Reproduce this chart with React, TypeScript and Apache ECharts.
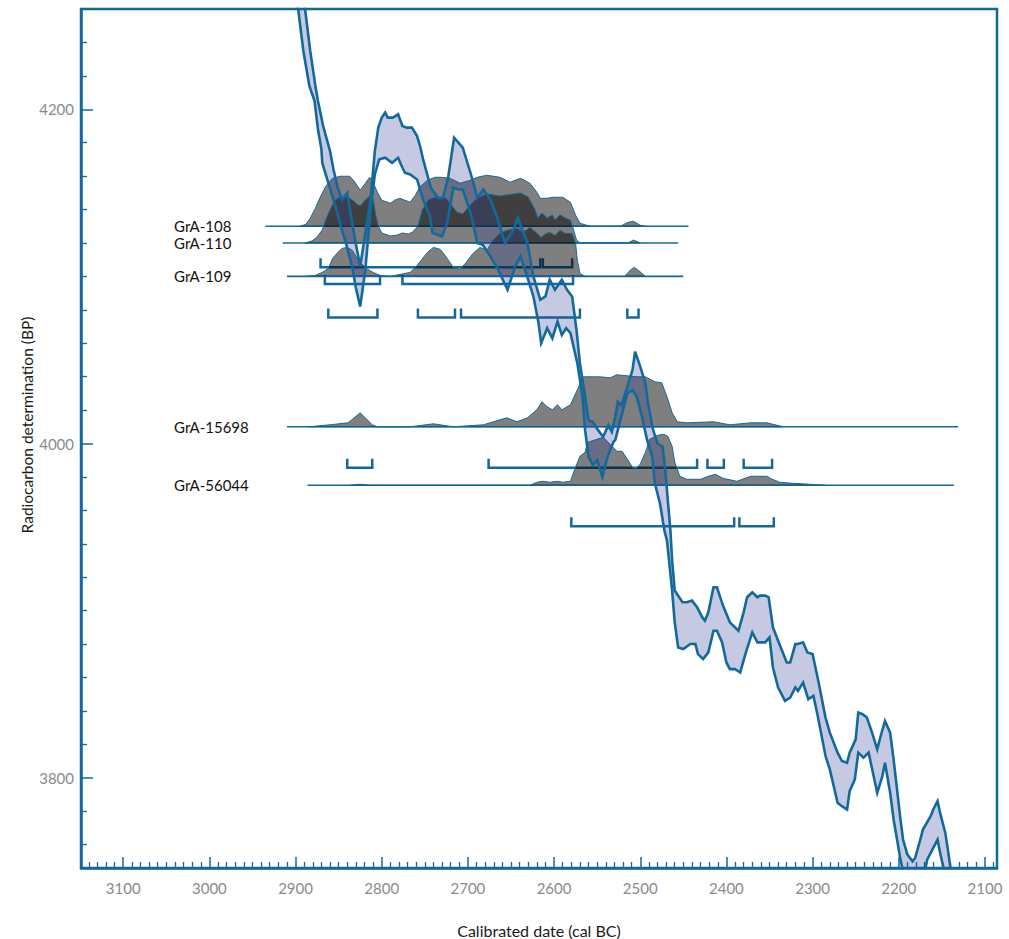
import React, { useEffect, useRef } from 'react';
import * as echarts from 'echarts';

// Axis extents (cal BC on x, reversed; BP on y)
const X_MIN = 2086;
const X_MAX = 3149;
const Y_MIN = 3746;
const Y_MAX = 4260;

// Calibration curve: upper (+1σ) and lower (−1σ) boundaries, [cal BC, BP]
const CURVE_UPPER = [
  [2891, 4265], [2889, 4260], [2883, 4235], [2877, 4214], [2874, 4205], [2868, 4190], [2860, 4175], [2856, 4164],
  [2851, 4153], [2846, 4146], [2840, 4150], [2836, 4137], [2831, 4122], [2825, 4106], [2819, 4126], [2813, 4146],
  [2808, 4175], [2804, 4189], [2800, 4195], [2796, 4198], [2793, 4195], [2787, 4195], [2781, 4197], [2776, 4190],
  [2771, 4189], [2765, 4189], [2759, 4184], [2755, 4177], [2752, 4170], [2743, 4153], [2735, 4147], [2729, 4147],
  [2723, 4159], [2716, 4183], [2706, 4177], [2697, 4162], [2689, 4147], [2682, 4152], [2674, 4146], [2666, 4135],
  [2657, 4120], [2647, 4128], [2642, 4135], [2631, 4120], [2624, 4100], [2616, 4086], [2610, 4088], [2605, 4098],
  [2599, 4092], [2591, 4098], [2585, 4092], [2579, 4088], [2574, 4068], [2570, 4048], [2564, 4028], [2560, 4014],
  [2555, 4013], [2549, 4008], [2543, 4004], [2537, 4011], [2533, 4007], [2529, 4016], [2526, 4025], [2522, 4023],
  [2520, 4026], [2515, 4034], [2509, 4044], [2506, 4055], [2500, 4046], [2494, 4036], [2491, 4024], [2485, 4008],
  [2480, 4000], [2474, 3998], [2471, 3984], [2468, 3966], [2465, 3948], [2463, 3930], [2460, 3912], [2451, 3905],
  [2446, 3905], [2440, 3906], [2434, 3902], [2428, 3896], [2425, 3894], [2421, 3899], [2415, 3914], [2411, 3914],
  [2404, 3903], [2396, 3893], [2386, 3888], [2380, 3899], [2376, 3908], [2370, 3911], [2364, 3908], [2361, 3909],
  [2355, 3909], [2351, 3908], [2346, 3890], [2340, 3882], [2330, 3869], [2326, 3869], [2320, 3880], [2317, 3880],
  [2311, 3881], [2306, 3875], [2300, 3874], [2293, 3857], [2285, 3836], [2280, 3827], [2271, 3815], [2266, 3810],
  [2260, 3809], [2257, 3815], [2250, 3823], [2247, 3839], [2242, 3838], [2237, 3836], [2231, 3827], [2225, 3817],
  [2221, 3825], [2216, 3834], [2210, 3827], [2206, 3811], [2202, 3793], [2198, 3775], [2195, 3763], [2190, 3754],
  [2184, 3750], [2181, 3752], [2175, 3763], [2172, 3769], [2163, 3777], [2160, 3781], [2155, 3786], [2152, 3779],
  [2146, 3767], [2143, 3757], [2140, 3746], [2138, 3739]
];
const CURVE_LOWER = [
  [2899, 4265], [2897, 4260], [2891, 4235], [2884, 4214], [2878, 4205], [2874, 4188], [2870, 4176], [2869, 4168],
  [2865, 4161], [2856, 4146], [2848, 4131], [2841, 4119], [2834, 4105], [2830, 4093], [2825, 4082], [2819, 4104],
  [2813, 4140], [2808, 4161], [2803, 4170], [2796, 4171], [2788, 4168], [2781, 4171], [2776, 4165], [2773, 4162],
  [2767, 4161], [2759, 4158], [2752, 4146], [2744, 4136], [2741, 4126], [2730, 4124], [2724, 4132], [2717, 4153],
  [2711, 4152], [2706, 4152], [2697, 4138], [2689, 4120], [2683, 4119], [2674, 4112], [2665, 4104], [2654, 4092],
  [2645, 4106], [2639, 4112], [2630, 4098], [2624, 4088], [2618, 4072], [2615, 4060], [2608, 4069], [2602, 4063],
  [2596, 4073], [2591, 4065], [2586, 4069], [2581, 4066], [2573, 4048], [2567, 4028], [2564, 4008], [2560, 3992],
  [2555, 3987], [2550, 3990], [2544, 3980], [2538, 3992], [2531, 4001], [2529, 4002], [2521, 4018], [2515, 4030],
  [2509, 4032], [2504, 4028], [2498, 4016], [2492, 4002], [2486, 3992], [2483, 3976], [2477, 3964], [2472, 3948],
  [2469, 3942], [2463, 3912], [2460, 3893], [2456, 3878], [2450, 3877], [2442, 3880], [2436, 3880], [2433, 3874],
  [2427, 3871], [2421, 3875], [2415, 3888], [2411, 3888], [2405, 3881], [2400, 3869], [2396, 3865], [2390, 3865],
  [2384, 3863], [2378, 3874], [2370, 3887], [2364, 3881], [2361, 3881], [2355, 3881], [2350, 3884], [2346, 3866],
  [2340, 3854], [2332, 3846], [2326, 3848], [2320, 3854], [2317, 3852], [2311, 3857], [2305, 3847], [2299, 3849],
  [2294, 3837], [2285, 3813], [2280, 3805], [2271, 3785], [2266, 3783], [2260, 3781], [2257, 3792], [2251, 3799],
  [2247, 3815], [2241, 3812], [2235, 3815], [2225, 3791], [2219, 3801], [2216, 3809], [2210, 3791], [2206, 3775],
  [2202, 3763], [2198, 3751], [2193, 3739], [2184, 3732], [2177, 3734], [2169, 3746], [2167, 3751], [2161, 3757],
  [2155, 3763], [2152, 3755], [2148, 3746], [2144, 3736]
];

// Samples: name, measured BP, extent of the plotted calibrated range (cal BC)
const SAMPLE_NAMES = ['GrA-108', 'GrA-110', 'GrA-109', 'GrA-15698', 'GrA-56044'];
const SAMPLE_BP = [4130, 4120, 4100, 4010, 3975];
const SAMPLE_FROM = [2935, 2915, 2910, 2910, 2886];
const SAMPLE_TO = [2444, 2456, 2450, 2131, 2136];

// Calibrated probability distributions: [cal BC, relative probability]
const DIST_108 = [
  [2895, 0], [2888, 2], [2883, 8], [2877, 18], [2872, 28], [2865, 40], [2857, 48], [2848, 50], [2837, 50], [2831, 44],
  [2825, 36], [2819, 43], [2814, 49], [2809, 42], [2805, 34], [2800, 26], [2790, 23], [2785, 26], [2779, 28], [2773, 26],
  [2767, 24], [2761, 31], [2756, 39], [2747, 46], [2738, 49], [2732, 49], [2721, 48], [2709, 43], [2697, 46], [2689, 49],
  [2678, 51], [2663, 49], [2651, 44], [2639, 48], [2628, 43], [2620, 34], [2616, 28], [2608, 28], [2601, 29], [2590, 29],
  [2581, 24], [2575, 11], [2570, 3], [2558, 0], [2523, 0], [2514, 4], [2508, 5], [2500, 1], [2494, 0]
];
const DIST_110 = [
  [2889, 0], [2881, 2], [2875, 6], [2869, 13], [2865, 23], [2860, 33], [2854, 43], [2848, 46], [2840, 46], [2834, 43],
  [2829, 39], [2825, 37], [2819, 43], [2814, 47], [2810, 44], [2807, 28], [2804, 17], [2800, 10], [2790, 7], [2782, 8],
  [2776, 10], [2769, 9], [2764, 11], [2758, 17], [2753, 33], [2746, 43], [2736, 46], [2726, 45], [2721, 40], [2713, 31],
  [2706, 29], [2697, 38], [2689, 45], [2678, 49], [2663, 47], [2655, 48], [2639, 50], [2630, 46], [2622, 33], [2619, 25],
  [2614, 30], [2608, 25], [2602, 28], [2599, 23], [2593, 28], [2587, 25], [2581, 23], [2578, 15], [2574, 3], [2570, 0],
  [2514, 0], [2508, 3], [2500, 0]
];
const DIST_109 = [
  [2889, 0], [2877, 1], [2869, 4], [2862, 8], [2857, 18], [2851, 24], [2846, 28], [2840, 29], [2834, 26], [2830, 20],
  [2825, 14], [2818, 8], [2810, 4], [2802, 1], [2790, 0], [2779, 2], [2767, 4], [2759, 11], [2747, 24], [2740, 29],
  [2732, 27], [2724, 18], [2717, 9], [2709, 7], [2702, 14], [2694, 23], [2686, 29], [2678, 26], [2671, 36], [2663, 43],
  [2655, 46], [2643, 48], [2636, 44], [2628, 49], [2621, 44], [2615, 39], [2609, 43], [2605, 44], [2599, 41], [2593, 46],
  [2587, 43], [2579, 43], [2575, 33], [2573, 16], [2570, 3], [2564, 0], [2518, 0], [2512, 6], [2507, 9], [2502, 6],
  [2494, 0]
];
const DIST_15698 = [
  [2885, 0], [2860, 2], [2839, 4], [2825, 14], [2811, 2], [2805, 0], [2767, 0], [2740, 3], [2717, 0], [2682, 2],
  [2655, 9], [2643, 5], [2631, 9], [2620, 17], [2614, 25], [2608, 20], [2602, 17], [2596, 22], [2591, 17], [2581, 22],
  [2573, 37], [2566, 50], [2547, 50], [2535, 49], [2527, 52], [2504, 50], [2494, 50], [2483, 45], [2475, 44], [2469, 30],
  [2463, 14], [2457, 5], [2446, 4], [2415, 5], [2396, 2], [2372, 4], [2353, 4], [2334, 0]
];
const DIST_56044 = [
  [2837, 0], [2825, 1], [2814, 0], [2628, 0], [2620, 3], [2613, 4], [2605, 3], [2596, 4], [2590, 3], [2581, 4],
  [2576, 16], [2570, 29], [2564, 33], [2561, 43], [2550, 46], [2543, 48], [2535, 41], [2527, 34], [2521, 34], [2515, 26],
  [2509, 18], [2506, 16], [2500, 21], [2494, 33], [2489, 46], [2480, 50], [2473, 51], [2468, 49], [2463, 39], [2460, 23],
  [2454, 9], [2446, 6], [2430, 6], [2421, 9], [2413, 11], [2404, 7], [2388, 4], [2372, 9], [2353, 9], [2347, 6],
  [2338, 3], [2323, 2], [2303, 1], [2285, 0]
];
const DISTS = [DIST_108, DIST_110, DIST_109, DIST_15698, DIST_56044];

// Highest-probability ranges: [from cal BC, to cal BC, sample index]
const RANGES = [
  [2871, 2616, 0], [2613, 2579, 0],
  [2866, 2802, 1], [2776, 2578, 1],
  [2862, 2805, 2], [2758, 2715, 2], [2708, 2570, 2], [2515, 2502, 2],
  [2840, 2811, 3], [2676, 2434, 3], [2422, 2403, 3], [2380, 2347, 3],
  [2580, 2391, 4], [2385, 2345, 4]
];

const X_TICK_STEP = 100;
const Y_TICK_STEP = 200;

// Styling constants
const BLUE = '#14699b';
const FONT = 'Lato, "Open Sans", sans-serif';
const PROB_PX = 1;
const RANGE_DROP_PX = 41;
const RANGE_TICK_PX = 9;
const LABEL_DATE = 3041;

export default function App() {
  const ref = useRef<HTMLDivElement>(null);

  useEffect(() => {
    document.body.style.margin = '0';
    document.body.style.overflow = 'hidden';
    if (!ref.current) return;
    const chart = echarts.init(ref.current, undefined, { renderer: 'svg' });

    const sampleRows = SAMPLE_NAMES.map((n, i) => [SAMPLE_FROM[i], SAMPLE_TO[i], SAMPLE_BP[i]]);

    const option: any = {
      animation: false,
      grid: {
        left: 81, right: 12, top: 9, bottom: 71,
        containLabel: false, outerBoundsMode: 'none',
        show: true, borderColor: BLUE, borderWidth: 2.5, backgroundColor: 'transparent'
      },
      xAxis: {
        type: 'value', inverse: true, min: X_MIN, max: X_MAX,
        minInterval: X_TICK_STEP, maxInterval: X_TICK_STEP, splitNumber: 10,
        name: 'Calibrated date (cal BC)', nameLocation: 'middle', nameGap: 54,
        nameTextStyle: { color: '#1a1a1a', fontSize: 16, fontFamily: FONT },
        axisLine: { show: true, onZero: false, lineStyle: { color: BLUE, width: 2.5 } },
        axisTick: { show: true, inside: true, length: 11, lineStyle: { color: BLUE, width: 1.5 } },
        minorTick: { show: true, splitNumber: 10, length: 6, lineStyle: { color: BLUE, width: 1.3 } },
        axisLabel: {
          show: true, margin: 12, color: '#8a8a8a', fontSize: 15, fontFamily: FONT,
          showMinLabel: false, showMaxLabel: false, formatter: (v: number) => String(v)
        },
        splitLine: { show: false }, minorSplitLine: { show: false }
      },
      yAxis: {
        type: 'value', min: Y_MIN, max: Y_MAX,
        minInterval: Y_TICK_STEP, maxInterval: Y_TICK_STEP, splitNumber: 3,
        axisLine: { show: true, onZero: false, lineStyle: { color: BLUE, width: 2.5 } },
        axisTick: { show: true, inside: true, length: 12, lineStyle: { color: BLUE, width: 1.5 } },
        minorTick: { show: true, splitNumber: 10, length: 6, lineStyle: { color: BLUE, width: 1.3 } },
        axisLabel: {
          show: true, margin: 7, color: '#8a8a8a', fontSize: 15, fontFamily: FONT,
          showMinLabel: false, showMaxLabel: false, formatter: (v: number) => String(v)
        },
        splitLine: { show: false }, minorSplitLine: { show: false }
      },
      graphic: [
        {
          type: 'text', x: 27, y: 425, rotation: Math.PI / 2,
          style: {
            text: 'Radiocarbon determination (BP)', fill: '#1a1a1a', fontSize: 15.5, fontFamily: FONT,
            align: 'center', verticalAlign: 'middle'
          }
        }
      ],
      series: [
        {
          type: 'custom', name: 'baselines', coordinateSystem: 'cartesian2d', z: 1, clip: true, silent: true,
          encode: { x: [0, 1], y: 2 },
          data: sampleRows,
          renderItem: (params: any, api: any) => {
            const bp = api.value(2);
            const a = api.coord([api.value(0), bp]);
            const b = api.coord([api.value(1), bp]);
            const t = api.coord([LABEL_DATE, bp]);
            return {
              type: 'group',
              children: [
                { type: 'line', shape: { x1: a[0], y1: a[1], x2: b[0], y2: b[1] }, style: { stroke: BLUE, lineWidth: 1.6 } },
                {
                  type: 'text', x: t[0], y: t[1],
                  style: {
                    text: SAMPLE_NAMES[params.dataIndex], fill: '#111', fontSize: 15, fontFamily: FONT,
                    align: 'left', verticalAlign: 'middle'
                  }
                }
              ]
            };
          }
        },
        {
          type: 'custom', name: 'ranges', coordinateSystem: 'cartesian2d', z: 1, clip: true, silent: true,
          encode: { x: [0, 1] },
          data: RANGES,
          renderItem: (params: any, api: any) => {
            const bp = SAMPLE_BP[api.value(2)];
            const a = api.coord([api.value(0), bp]);
            const b = api.coord([api.value(1), bp]);
            const y = a[1] + RANGE_DROP_PX;
            return {
              type: 'polyline',
              shape: { points: [[a[0], y - RANGE_TICK_PX], [a[0], y], [b[0], y], [b[0], y - RANGE_TICK_PX]] },
              style: { stroke: BLUE, lineWidth: 2.5, fill: 'none', lineJoin: 'miter' }
            };
          }
        },
        {
          type: 'custom', name: 'distributions', coordinateSystem: 'cartesian2d', z: 2, clip: true, silent: true,
          encode: { x: [0, 1], y: 2 },
          data: sampleRows,
          renderItem: (params: any, api: any) => {
            const bp = api.value(2);
            const dist = DISTS[params.dataIndex];
            const pts = dist.map(([d, p]) => {
              const c = api.coord([d, bp]);
              return [c[0], c[1] - p * PROB_PX];
            });
            return {
              type: 'polygon',
              shape: { points: pts },
              style: { fill: 'rgba(0,0,0,0.5)', stroke: BLUE, lineWidth: 1 }
            };
          }
        },
        {
          type: 'custom', name: 'band', coordinateSystem: 'cartesian2d', z: 3, clip: true, silent: true,
          data: CURVE_UPPER,
          renderItem: (params: any, api: any) => {
            if (params.dataIndex !== 0) return null;
            const pts = [...CURVE_UPPER, ...CURVE_LOWER.slice().reverse()].map((p) => api.coord(p));
            return { type: 'polygon', shape: { points: pts }, style: { fill: 'rgba(50,62,152,0.28)' } };
          }
        },
        {
          type: 'line', name: 'upper', data: CURVE_UPPER, z: 4, clip: true, silent: true,
          showSymbol: false, symbol: 'none',
          lineStyle: { color: BLUE, width: 2.6, join: 'miter' }
        },
        {
          type: 'line', name: 'lower', data: CURVE_LOWER, z: 4, clip: true, silent: true,
          showSymbol: false, symbol: 'none',
          lineStyle: { color: BLUE, width: 2.6, join: 'miter' }
        }
      ]
    };

    chart.setOption(option);
    return () => chart.dispose();
  }, []);

  return <div ref={ref} style={{ width: 1009, height: 939 }} />;
}
